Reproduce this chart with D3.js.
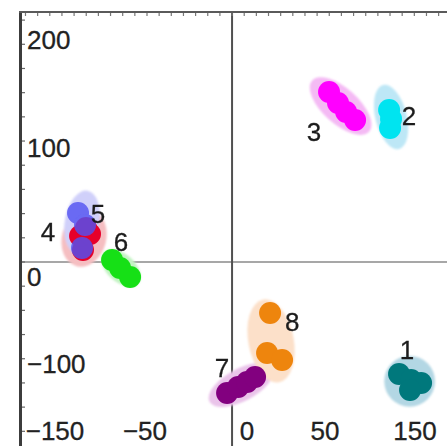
<!DOCTYPE html>
<html>
<head>
<meta charset="utf-8">
<script src="https://cdn.jsdelivr.net/npm/d3@7/dist/d3.min.js"></script>
<style>
  html, body { margin: 0; padding: 0; background: #fff; }
  svg { display: block; }
</style>
</head>
<body>
<script>
// ---- data ----
const clusterIds = [1, 2, 3, 4, 5, 6, 7, 8];
const pts1 = [[154.6, -103.7], [165.7, -109.3], [175.0, -112.0], [164.8, -118.5]];
const pts2 = [[145.4, 140.7], [147.2, 132.4], [146.3, 124.1]];
const pts3 = [[89.8, 157.4], [98.1, 147.2], [105.6, 138.9], [113.9, 131.5]];
const pts4 = [[-138.0, 11.1], [-140.7, 24.1], [-131.5, 25.9], [-135.2, 31.5]];
const pts5 = [[-142.6, 45.4], [-136.1, 34.3], [-138.9, 13.0]];
const pts6 = [[-111.1, 1.9], [-103.7, -5.6], [-94.4, -13.9]];
const pts7 = [[-4.6, -121.3], [5.6, -115.7], [13.9, -111.1], [21.3, -106.5]];
const pts8 = [[35.2, -47.2], [32.4, -84.3], [46.3, -90.7]];
const clusterPoints = [pts1, pts2, pts3, pts4, pts5, pts6, pts7, pts8];

// spread ellipses (centre, semi-axes in data units, orientation in degrees)
const ellipseCx = [164.4, 147.2, 100.5, -137.0, -138.9, -102.8, 8.3, 36.1];
const ellipseCy = [-110.5, 134.3, 144.4, 22.2, 37.0, -5.6, -113.9, -73.1];
const ellipseA = [23.5, 30.5, 35.5, 27.0, 29.5, 21.5, 33.0, 39.0];
const ellipseB = [23.5, 14.5, 16.5, 20.5, 16.0, 13.0, 15.0, 21.0];
const ellipseAngle = [0, 76, 42, -75, -80, 42, -28, 79];

// cluster label anchors (data units)
const labelX = [162.0, 163.9, 75.9, -170.4, -124.1, -102.8, -9.3, 55.6];
const labelY = [-81.5, 135.2, 120.4, 27.8, 44.4, 18.5, -98.1, -55.6];

// axis tick labels
const xTickLabels = [-150, -50, 0, 50, 150];
const yTickLabels = [200, 100, 0, -100];
const xDomain = [-195.4, 199.0];
const yDomain = [231.5, -170.4];

// ---- styles ----
const dotColors = ["#00787c", "#00e4f0", "#ff00ff", "#e6002a", "#5252f2", "#18e018", "#82007f", "#ee8510"];
const dotOpacity = [1, 1, 1, 1, 0.82, 1, 1, 1];
const ellColors = ["#b3d7e4", "#bde7f6", "#f4baf4", "#f5bec1", "#d0d0fa", "#c2f3c2", "#eac4ea", "#fce0c9"];

const W = 447, H = 446;
const svg = d3.select("body").append("svg").attr("width", W).attr("height", H);
const defs = svg.append("defs");
defs.append("filter").attr("id", "soft").attr("x", "-30%").attr("y", "-30%").attr("width", "160%").attr("height", "160%")
  .append("feGaussianBlur").attr("stdDeviation", 1.2);
defs.append("filter").attr("id", "soft2").attr("x", "-10%").attr("y", "-10%").attr("width", "120%").attr("height", "120%")
  .append("feGaussianBlur").attr("stdDeviation", 0.5);

const x = d3.scaleLinear().domain(xDomain).range([21, W]);
const y = d3.scaleLinear().domain(yDomain).range([12, H]);
const kx = Math.abs(x(1) - x(0)), ky = Math.abs(y(1) - y(0));

// zero lines
svg.append("line").attr("x1", 21).attr("x2", W).attr("y1", y(0)).attr("y2", y(0))
  .attr("stroke", "#8a8a8a").attr("stroke-width", 1.5);
svg.append("line").attr("x1", x(0)).attr("x2", x(0)).attr("y1", 12).attr("y2", H)
  .attr("stroke", "#505050").attr("stroke-width", 2);

// frame (left + top)
svg.append("line").attr("x1", 20.5).attr("x2", 20.5).attr("y1", 11).attr("y2", H)
  .attr("stroke", "#3c3c3c").attr("stroke-width", 3);
svg.append("line").attr("x1", 19).attr("x2", W).attr("y1", 12).attr("y2", 12)
  .attr("stroke", "#5a5a5a").attr("stroke-width", 2);

// minor ticks
const yStep = 22.4, xStep = 11.25;
const yMinor = d3.range(0, yDomain[0], yStep).concat(d3.range(-yStep, yDomain[1], -yStep));
const xMinor = d3.range(0, xDomain[1], xStep).concat(d3.range(-xStep, xDomain[0], -xStep));
svg.append("g").selectAll("line").data(yMinor).join("line")
  .attr("x1", 22).attr("x2", 25).attr("y1", d => y(d)).attr("y2", d => y(d))
  .attr("stroke", "#666").attr("stroke-width", 1.2);
svg.append("g").selectAll("line").data(xMinor).join("line")
  .attr("x1", d => x(d)).attr("x2", d => x(d)).attr("y1", 13).attr("y2", 16)
  .attr("stroke", "#777").attr("stroke-width", 1.2);

const fmt = d3.format("d");
const font = "Liberation Sans, Arial, Helvetica, sans-serif";
const fs = 26;

// y tick labels
svg.append("g").selectAll("text").data(yTickLabels).join("text")
  .attr("x", 27).attr("y", d => y(d) + (d === 0 ? 15 : -6))
  .attr("dominant-baseline", "central")
  .attr("font-family", font).attr("font-size", fs).attr("fill", "#222")
  .attr("stroke", "#222").attr("stroke-width", 0.3)
  .text(d => fmt(d));

// x tick labels (bottom row)
const xl = d3.scalePoint().domain(xTickLabels).range([x.range()[0] + 34, x.range()[1] - 32]);
svg.append("g").selectAll("text").data(xTickLabels).join("text")
  .attr("x", d => xl(d) + (d === 0 ? 12 : 0)).attr("y", 431)
  .attr("text-anchor", "middle").attr("dominant-baseline", "central")
  .attr("font-family", font).attr("font-size", fs).attr("fill", "#222")
  .attr("stroke", "#222").attr("stroke-width", 0.3)
  .text(d => fmt(d));

// ellipses
svg.append("g").attr("filter", "url(#soft)").selectAll("ellipse").data(clusterIds).join("ellipse")
  .attr("transform", (d, i) => `translate(${x(ellipseCx[i])},${y(ellipseCy[i])}) rotate(${ellipseAngle[i]})`)
  .attr("rx", (d, i) => ellipseA[i] * kx).attr("ry", (d, i) => ellipseB[i] * ky)
  .attr("fill", (d, i) => ellColors[i]);

// dots
const gd = svg.append("g").attr("filter", "url(#soft2)");
clusterIds.forEach((id, i) => {
  gd.append("g").attr("opacity", dotOpacity[i]).selectAll("circle").data(clusterPoints[i]).join("circle")
    .attr("cx", d => x(d[0])).attr("cy", d => y(d[1])).attr("r", 11)
    .attr("fill", dotColors[i]);
});

// cluster labels
svg.append("g").selectAll("text").data(clusterIds).join("text")
  .attr("x", (d, i) => x(labelX[i])).attr("y", (d, i) => y(labelY[i]))
  .attr("text-anchor", "middle").attr("dominant-baseline", "central")
  .attr("font-family", font).attr("font-size", fs).attr("fill", "#1c1c1c")
  .attr("stroke", "#1c1c1c").attr("stroke-width", 0.3)
  .text(d => d);
</script>
</body>
</html>
